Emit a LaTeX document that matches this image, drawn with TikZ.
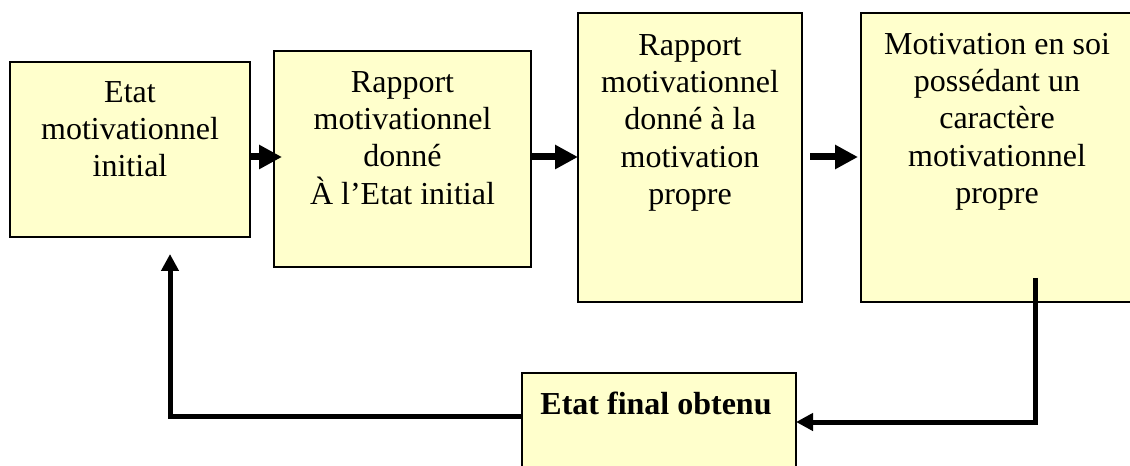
\documentclass[tikz,border=0pt]{standalone}
\usepackage{fontspec}
\setmainfont{Liberation Serif}
\usetikzlibrary{arrows.meta}
\definecolor{boxfill}{HTML}{FFFFCC}
\tikzset{
  box/.style={draw=black, line width=0.9pt, fill=boxfill, inner sep=0pt, outer sep=0pt},
  txt/.style={anchor=north, align=center, inner sep=0pt, font=\fontsize{24}{28}\selectfont},
  fwd/.style={line width=5.25pt, -{Triangle[length=17.25pt, width=17.25pt]}},
  back/.style={line width=3.75pt, -{Triangle[length=12.75pt, width=12.75pt]}}
}
\newcommand{\firstline}{\rule{0pt}{20pt}}
\begin{document}
\begin{tikzpicture}[x=0.75pt, y=-0.75pt]
\useasboundingbox (0,0) rectangle (1130,466);
\clip (0,0) rectangle (1130,466);
% boxes
\node[box, minimum width=180pt, minimum height=131.25pt] (b1) at (130,149.5) {};
\node[box, minimum width=192.75pt, minimum height=162pt] (b2) at (402.5,159) {};
\node[box, minimum width=168pt, minimum height=216.75pt] (b3) at (690,157.5) {};
\node[box, minimum width=210pt, minimum height=216.75pt] (b4) at (1001,157.5) {};
\node[box, minimum width=205.5pt, minimum height=80.25pt] (b5) at (659,426.5) {};
% texts
\node[txt] (t1) at (130,75.3) {\firstline Etat\\motivationnel\\initial};
\node[txt] (t2) at (402.5,65.3) {\firstline Rapport\\motivationnel\\donné\\À l’Etat initial};
\node[txt] (t3) at (690,28.3) {\firstline Rapport\\motivationnel\\donné à la\\motivation\\propre};
\node[txt] (t4) at (997,27.3) {\firstline Motivation en soi\\possédant un\\caractère\\motivationnel\\propre};
\node[txt, font=\fontsize{24}{28}\selectfont\bfseries] (t5) at (656,387.3) {\firstline Etat final obtenu};
% helper coordinates
\coordinate (ay) at (0,157);
\coordinate (ls) at (1035,278);
\coordinate (ly) at (0,422);
\coordinate (ly2) at (0,416);
\coordinate (lc) at (170,416);
% forward arrows
\draw[fwd, shorten >=-6pt] (b1.east|-ay) -- (b2.west|-ay);
\draw[fwd] (b2.east|-ay) -- (b3.west|-ay);
\draw[fwd, shorten <=6pt, shorten >=2.25pt] (b3.east|-ay) -- (b4.west|-ay);
% feedback loop
\draw[back] (ls) |- (b5.east|-ly);
\draw[back, shorten >=12.75pt] (b5.west|-ly2) -- (lc) -- (lc|-b1.south);
\end{tikzpicture}
\end{document}
